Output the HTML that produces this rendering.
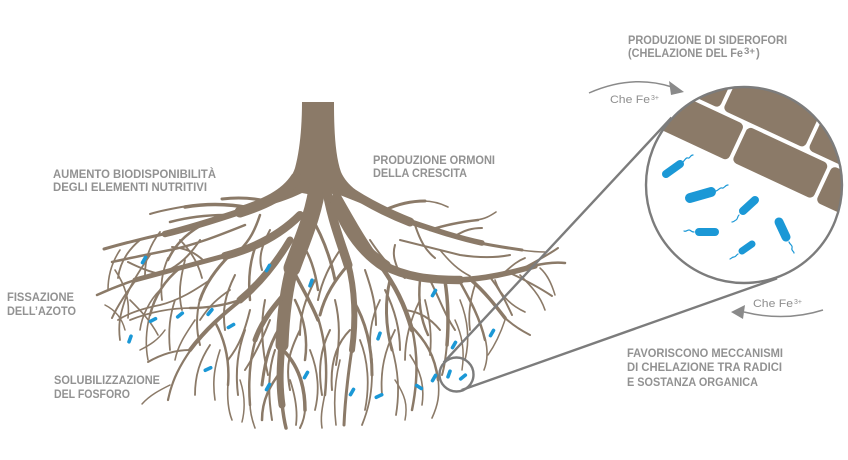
<!DOCTYPE html>
<html><head><meta charset="utf-8"><style>
html,body{margin:0;padding:0;background:#fff;}
svg{display:block;}
.lb{font-family:"Liberation Sans",sans-serif;font-weight:bold;font-size:11.5px;fill:#929292;}
.ch{font-family:"Liberation Sans",sans-serif;font-size:11px;fill:#8e8e8e;}
</style></head><body>
<svg width="848" height="460" viewBox="0 0 848 460" xmlns="http://www.w3.org/2000/svg">
<rect width="848" height="460" fill="#fff"/>
<defs><clipPath id="cc"><circle cx="744" cy="185" r="98"/></clipPath></defs>

<!-- trunk -->
<path fill="#8b7a68" d="M302,102 L334,102 C334,128 335,155 341,172 C347,186 362,196 384,206 L380,211 C362,204 346,197 334,193 L318,196 L302,193 C290,199 272,205 252,210 L250,204 C272,196 290,184 295,168 C300,150 302,125 302,102 Z"/>

<g fill="none" stroke="#8b7a68" stroke-linecap="round" stroke-linejoin="round">
<!-- P1 upper-left -->
<path stroke-width="11" d="M296,178 C285,195 265,204 240,212"/>
<path stroke-width="6.5" d="M242,211 C215,220 190,228 165,234"/>
<path stroke-width="3" d="M168,233 C145,238 125,243 104,249"/>
<path stroke-width="3.5" d="M250,208 C230,204 210,203 185,207"/>
<path stroke-width="2" d="M188,206 C175,208 163,210 150,214"/>
<path stroke-width="2.5" d="M225,215 C205,215 185,218 170,222"/>
<path stroke-width="2.5" d="M200,226 C185,235 175,245 168,260"/>
<path stroke-width="1.8" d="M168,258 C162,272 160,285 162,300"/>
<path stroke-width="1.8" d="M140,240 C128,250 120,262 118,278"/>
<path stroke-width="3" d="M270,202 C255,198 240,197 222,199"/>
<!-- P2 mid-left -->
<path stroke-width="8" d="M300,215 C280,235 255,248 225,256"/>
<path stroke-width="5" d="M228,255 C195,264 165,272 135,280"/>
<path stroke-width="2.5" d="M138,279 C120,285 108,290 97,295"/>
<path stroke-width="3" d="M230,255 C215,270 205,285 200,300"/>
<path stroke-width="2" d="M200,299 C196,315 196,330 200,345"/>
<path stroke-width="2.5" d="M180,268 C165,280 155,295 150,315"/>
<path stroke-width="1.6" d="M150,314 C146,330 145,345 148,360"/>
<path stroke-width="2" d="M160,274 C150,272 140,268 128,262"/>
<path stroke-width="2" d="M135,281 C125,295 118,305 112,318"/>
<path stroke-width="2.5" d="M255,248 C250,262 248,280 250,300"/>
<path stroke-width="2" d="M205,262 C195,252 185,248 172,247"/>
<!-- P3 lower-left -->
<path stroke-width="7" d="M290,240 C275,265 258,285 240,300"/>
<path stroke-width="4" d="M242,299 C222,315 205,330 190,350"/>
<path stroke-width="2.2" d="M192,348 C180,365 172,380 168,400"/>
<path stroke-width="2.5" d="M240,300 C225,305 210,308 190,308"/>
<path stroke-width="1.8" d="M192,308 C170,308 150,312 130,320"/>
<path stroke-width="2.5" d="M215,322 C225,340 230,360 228,385"/>
<path stroke-width="1.6" d="M228,383 C227,398 228,410 232,420"/>
<path stroke-width="2" d="M190,350 C175,350 160,355 148,362"/>
<path stroke-width="1.5" d="M170,385 C160,390 150,395 142,404"/>
<!-- P4 center main -->
<path stroke-width="17" d="M318,182 C314,215 302,240 292,268"/>
<path stroke-width="13" d="M293,265 C286,290 283,318 282,345"/>
<path stroke-width="7" d="M282,343 C280,365 279,385 282,405"/>
<path stroke-width="3.5" d="M282,403 C283,413 284,420 286,428"/>
<path stroke-width="5" d="M288,290 C275,305 262,320 255,340"/>
<path stroke-width="2.5" d="M256,338 C250,358 248,380 250,405"/>
<path stroke-width="1.6" d="M250,403 C250,412 252,420 255,428"/>
<path stroke-width="3" d="M285,320 C270,340 265,360 262,385"/>
<path stroke-width="3.5" d="M283,350 C298,365 305,385 305,410"/>
<path stroke-width="2" d="M305,408 C305,416 303,422 300,428"/>
<path stroke-width="2.5" d="M282,370 C270,385 262,400 262,420"/>
<path stroke-width="3.5" d="M292,268 C300,285 310,300 318,320"/>
<path stroke-width="2.5" d="M318,318 C325,340 328,365 325,395"/>
<path stroke-width="1.6" d="M325,393 C323,405 320,415 322,428"/>
<!-- P5 center-right -->
<path stroke-width="9" d="M326,185 C330,215 340,240 348,265"/>
<path stroke-width="6" d="M348,263 C355,290 356,320 352,350"/>
<path stroke-width="3" d="M352,348 C348,375 345,400 344,425"/>
<path stroke-width="3" d="M348,265 C335,280 325,295 320,315"/>
<path stroke-width="3" d="M353,300 C365,320 372,345 372,375"/>
<path stroke-width="1.8" d="M372,373 C372,395 368,410 362,425"/>
<path stroke-width="2" d="M350,330 C335,345 330,365 332,390"/>
<!-- P6 right-center -->
<path stroke-width="7" d="M334,190 C348,215 362,240 378,262"/>
<path stroke-width="4.5" d="M378,262 C395,285 405,305 412,330"/>
<path stroke-width="2.5" d="M412,328 C418,355 418,380 412,410"/>
<path stroke-width="3" d="M390,280 C385,300 385,325 392,350"/>
<path stroke-width="1.8" d="M392,348 C398,370 400,390 396,415"/>
<path stroke-width="2.5" d="M410,325 C425,340 435,355 438,380"/>
<path stroke-width="1.6" d="M438,378 C440,395 438,405 432,418"/>
<path stroke-width="2" d="M405,310 C420,312 430,318 440,330"/>
<!-- P7 upper right -->
<path stroke-width="9" d="M345,188 C365,202 385,212 410,222"/>
<path stroke-width="5.5" d="M408,221 C435,230 458,238 482,243"/>
<path stroke-width="3" d="M480,243 C495,246 508,248 522,250"/>
<path stroke-width="1.6" d="M520,250 C528,251 535,252 545,252"/>
<path stroke-width="3" d="M385,210 C398,204 410,201 425,201"/>
<path stroke-width="1.6" d="M423,201 C432,201 440,203 448,207"/>
<path stroke-width="2.5" d="M430,230 C445,225 460,222 478,220"/>
<path stroke-width="1.6" d="M476,220 C485,219 490,216 496,212"/>
<path stroke-width="2" d="M455,236 C465,230 472,228 482,228"/>
<path stroke-width="2" d="M415,225 C420,240 425,250 435,258"/>
<!-- P8 long horizontal right -->
<path stroke-width="12" d="M336,200 C345,225 360,250 385,266"/>
<path stroke-width="8.5" d="M383,265 C405,277 430,280 460,280"/>
<path stroke-width="5.5" d="M458,280 C485,279 510,273 535,266"/>
<path stroke-width="2.5" d="M533,266 C545,263 555,262 565,263"/>
<path stroke-width="2" d="M520,270 C535,262 548,255 558,248"/>
<path stroke-width="2" d="M510,273 C525,280 540,288 552,296"/>
<path stroke-width="3.5" d="M470,279 C485,292 495,305 505,318"/>
<path stroke-width="2" d="M503,316 C512,325 520,330 530,335"/>
<path stroke-width="3.5" d="M445,281 C448,300 449,320 447,345"/>
<path stroke-width="2" d="M447,343 C446,355 445,365 442,375"/>
<path stroke-width="2" d="M490,277 C500,290 505,300 512,315"/>
<path stroke-width="2.5" d="M420,280 C418,300 420,318 428,335"/>
<path stroke-width="2" d="M400,275 C395,262 392,255 395,245"/>
<path stroke-width="1.8" d="M500,276 C510,268 515,262 525,258"/>
<path stroke-width="2.5" d="M460,282 C470,300 480,318 485,340"/>
<path stroke-width="1.6" d="M485,338 C488,350 488,360 484,370"/>
<!-- extra rootlets: left -->
<path stroke-width="1.8" d="M160,232 C150,245 145,258 145,275"/>
<path stroke-width="1.6" d="M120,250 C112,262 108,275 108,290"/>
<path stroke-width="1.8" d="M180,240 C190,250 198,262 202,278"/>
<path stroke-width="2.5" d="M260,215 C255,230 250,240 240,250"/>
<path stroke-width="2" d="M270,230 C262,245 258,258 262,270"/>
<path stroke-width="1.8" d="M230,290 C218,298 210,305 200,320"/>
<path stroke-width="1.8" d="M175,300 C170,315 168,330 170,350"/>
<path stroke-width="1.8" d="M210,345 C200,360 195,375 195,395"/>
<path stroke-width="2" d="M245,330 C238,350 235,370 238,395"/>
<path stroke-width="2" d="M265,300 C260,325 262,350 268,375"/>
<path stroke-width="2.5" d="M245,225 C220,235 195,245 170,250 C150,254 130,258 112,262"/>
<path stroke-width="2" d="M200,240 C190,255 180,265 165,272"/>
<path stroke-width="1.8" d="M150,255 C140,270 130,285 125,300 C120,315 118,325 120,340"/>
<path stroke-width="1.8" d="M185,260 C180,280 178,295 182,310"/>
<path stroke-width="1.6" d="M115,270 C125,285 130,300 128,318"/>
<path stroke-width="1.8" d="M210,280 C195,290 180,300 160,305 C145,308 130,312 118,320"/>
<path stroke-width="2" d="M235,275 C225,295 222,310 225,330"/>
<path stroke-width="1.6" d="M160,290 C150,300 142,315 140,330"/>
<path stroke-width="1.6" d="M195,320 C185,335 178,345 175,360"/>
<path stroke-width="2" d="M250,310 C245,330 240,345 228,360"/>
<path stroke-width="1.6" d="M220,350 C215,365 212,380 215,400"/>
<path stroke-width="1.5" d="M165,330 C158,340 150,345 140,350"/>
<path stroke-width="1.5" d="M240,380 C245,395 245,410 242,422"/>
<path stroke-width="1.6" d="M130,300 C140,310 150,320 158,335"/>
<path stroke-width="1.5" d="M105,305 C115,310 122,318 125,330"/>
<!-- extra rootlets: center -->
<path stroke-width="2" d="M300,330 C290,350 285,365 290,390"/>
<path stroke-width="2" d="M315,280 C305,300 300,315 300,335"/>
<path stroke-width="2" d="M335,300 C340,320 340,340 336,365"/>
<path stroke-width="2" d="M270,320 C262,340 255,355 245,370"/>
<path stroke-width="2" d="M275,350 C268,370 268,395 272,420"/>
<path stroke-width="2.5" d="M295,300 C305,320 308,340 305,360"/>
<path stroke-width="1.8" d="M290,380 C295,395 298,410 296,425"/>
<path stroke-width="1.8" d="M310,350 C318,370 320,390 315,410"/>
<path stroke-width="2" d="M330,330 C320,350 318,370 322,395"/>
<path stroke-width="1.6" d="M340,360 C335,380 333,400 336,425"/>
<path stroke-width="1.8" d="M360,340 C368,360 370,385 365,410"/>
<path stroke-width="2.5" d="M300,240 C310,255 315,270 318,290"/>
<path stroke-width="3" d="M310,215 C322,235 330,255 335,280"/>
<path stroke-width="2" d="M340,250 C330,265 322,280 318,300"/>
<!-- extra rootlets: right -->
<path stroke-width="2" d="M365,270 C372,290 376,305 376,325"/>
<path stroke-width="1.8" d="M395,330 C385,350 380,370 382,395"/>
<path stroke-width="1.8" d="M425,300 C430,320 432,335 430,355"/>
<path stroke-width="1.6" d="M460,300 C468,320 470,340 465,360"/>
<path stroke-width="2" d="M370,240 C380,255 390,268 405,278"/>
<path stroke-width="2" d="M385,290 C395,310 400,330 400,350"/>
<path stroke-width="1.8" d="M420,300 C410,320 405,340 405,360"/>
<path stroke-width="2" d="M430,280 C440,300 445,315 455,330"/>
<path stroke-width="1.8" d="M475,285 C470,300 468,315 470,330"/>
<path stroke-width="1.6" d="M495,280 C500,295 510,305 525,312"/>
<path stroke-width="1.6" d="M520,275 C530,285 540,295 545,310"/>
<path stroke-width="1.5" d="M540,268 C548,275 552,285 555,295"/>
<path stroke-width="2" d="M400,240 C420,245 440,250 460,255 C480,258 495,258 510,255"/>
<path stroke-width="1.6" d="M440,250 C450,262 458,270 470,276"/>
<path stroke-width="1.8" d="M380,300 C370,320 368,340 372,360"/>
<path stroke-width="1.5" d="M455,320 C462,335 465,350 462,370"/>
<path stroke-width="1.6" d="M410,355 C420,370 425,385 422,405"/>
<path stroke-width="1.5" d="M395,380 C405,395 408,405 405,420"/>
<path stroke-width="1.5" d="M505,320 C500,335 495,345 488,355"/>
</g>

<!-- bacteria among roots -->
<g stroke="#1b98d6" stroke-width="3.6" stroke-linecap="round" fill="none">
<path d="M142.5,262.6 L145.5,257.4"/>
<path d="M150.5,321.3 L155.5,318.7"/>
<path d="M177.7,316.9 L182.3,313.1"/>
<path d="M208.1,314.3 L211.9,309.7"/>
<path d="M228.4,327.5 L233.6,324.5"/>
<path d="M129,341.8 L131,336.2"/>
<path d="M266.5,270.6 L269.5,265.4"/>
<path d="M310,285.8 L312,280.2"/>
<path d="M205.3,370.3 L210.7,367.7"/>
<path d="M266.5,389.6 L269.5,384.4"/>
<path d="M304.5,377.6 L307.5,372.4"/>
<path d="M432.5,295.6 L435.5,290.4"/>
<path d="M378,338.8 L380,333.2"/>
<path d="M452.5,347.6 L455.5,342.4"/>
<path d="M490.5,335.6 L493.5,330.4"/>
<path d="M350.5,394.6 L353.5,389.4"/>
<path d="M376.3,397.3 L381.7,394.7"/>
<path d="M416.7,385.5 L421.3,388.5"/>
<path d="M432.5,380.6 L435.5,375.4"/>
<path d="M448,376.8 L450,371.2"/>
<path d="M460.7,378.9 L465.3,375.1"/>
</g>

<!-- connectors -->
<g stroke="#7c7c7c" stroke-width="2.4" fill="none">
<line x1="443.6" y1="362.4" x2="671.5" y2="117.6"/>
<line x1="461.7" y1="390" x2="777" y2="278.4"/>
<circle cx="456.5" cy="374.5" r="17"/>
</g>

<!-- big circle -->
<circle cx="744" cy="185" r="98" fill="#fff"/>
<g clip-path="url(#cc)">
<g transform="translate(744,185) rotate(25)" fill="#8b7a68">
<rect x="-130" y="-130" width="75" height="71" rx="5"/>
<rect x="-51" y="-130" width="90" height="71" rx="5"/>
<rect x="43" y="-130" width="90" height="71" rx="5"/>
<rect x="-130" y="-55" width="105" height="40" rx="5"/>
<rect x="-21" y="-55" width="89" height="39" rx="5"/>
<rect x="72" y="-55" width="80" height="40" rx="5"/>
</g>
<g stroke="#1b98d6" stroke-linecap="round" fill="none">
<line x1="666" y1="174" x2="680" y2="164" stroke-width="8"/>
<line x1="690" y1="198" x2="711" y2="192" stroke-width="10"/>
<line x1="743" y1="211" x2="755" y2="200" stroke-width="8"/>
<line x1="699" y1="232" x2="715" y2="232" stroke-width="8"/>
<line x1="779" y1="222" x2="786" y2="237" stroke-width="9"/>
<line x1="742" y1="251" x2="752" y2="244" stroke-width="7"/>
<g stroke-width="1.2">
<path d="M683,162 c2,-2 3,-5 5,-4 s2,-3 5,-3"/>
<path d="M716,191 c3,-1 4,-4 6,-3 s3,-3 6,-3"/>
<path d="M739,215 c-2,2 -1,4 -3,5 s-2,2 -4,2"/>
<path d="M694,232 c-3,0 -3,-2 -5,-2 s-3,2 -5,1"/>
<path d="M789,242 c1,3 4,3 3,6 s2,3 2,5"/>
<path d="M738,254 c-2,1 -2,3 -4,3 s-2,1 -4,2"/>
</g>
</g>
</g>
<circle cx="744" cy="185" r="98" fill="none" stroke="#7c7c7c" stroke-width="2.4"/>

<!-- arrows -->
<g stroke="#8a8a8a" stroke-width="1.5" fill="none">
<path d="M589,93 Q632,74 672,87"/>
<path d="M823,310 Q785,322 744,312"/>
</g>
<polygon points="669,81 671,95 684,92" fill="#8a8a8a"/>
<polygon points="745,305 743,319 731,312" fill="#8a8a8a"/>

<!-- labels -->
<text class="lb" x="628" y="44" textLength="159" lengthAdjust="spacingAndGlyphs">PRODUZIONE DI SIDEROFORI</text>
<text class="lb" x="628" y="57" textLength="115" lengthAdjust="spacingAndGlyphs">(CHELAZIONE DEL Fe</text>
<text class="lb" x="744" y="54" style="font-size:9px" textLength="11" lengthAdjust="spacingAndGlyphs">3+</text>
<text class="lb" x="756" y="57">)</text>

<text class="ch" x="610" y="103" textLength="40" lengthAdjust="spacingAndGlyphs">Che Fe</text>
<text class="ch" x="651" y="100" style="font-size:7px">3+</text>
<text class="ch" x="753" y="307" textLength="40" lengthAdjust="spacingAndGlyphs">Che Fe</text>
<text class="ch" x="794" y="304" style="font-size:7px">3+</text>

<text class="lb" x="373" y="164" textLength="122" lengthAdjust="spacingAndGlyphs">PRODUZIONE ORMONI</text>
<text class="lb" x="373" y="177" textLength="94" lengthAdjust="spacingAndGlyphs">DELLA CRESCITA</text>
<text class="lb" x="53" y="178" textLength="163" lengthAdjust="spacingAndGlyphs">AUMENTO BIODISPONIBILITÀ</text>
<text class="lb" x="53" y="191" textLength="154" lengthAdjust="spacingAndGlyphs">DEGLI ELEMENTI NUTRITIVI</text>
<text class="lb" x="7" y="301" textLength="67" lengthAdjust="spacingAndGlyphs">FISSAZIONE</text>
<text class="lb" x="7" y="315" textLength="69" lengthAdjust="spacingAndGlyphs">DELL’AZOTO</text>
<text class="lb" x="54" y="384" textLength="106" lengthAdjust="spacingAndGlyphs">SOLUBILIZZAZIONE</text>
<text class="lb" x="54" y="398" textLength="76" lengthAdjust="spacingAndGlyphs">DEL FOSFORO</text>
<text class="lb" x="627" y="357" textLength="156" lengthAdjust="spacingAndGlyphs">FAVORISCONO MECCANISMI</text>
<text class="lb" x="627" y="371" textLength="155" lengthAdjust="spacingAndGlyphs">DI CHELAZIONE TRA RADICI</text>
<text class="lb" x="627" y="386" textLength="131" lengthAdjust="spacingAndGlyphs">E SOSTANZA ORGANICA</text>
</svg>
</body></html>
